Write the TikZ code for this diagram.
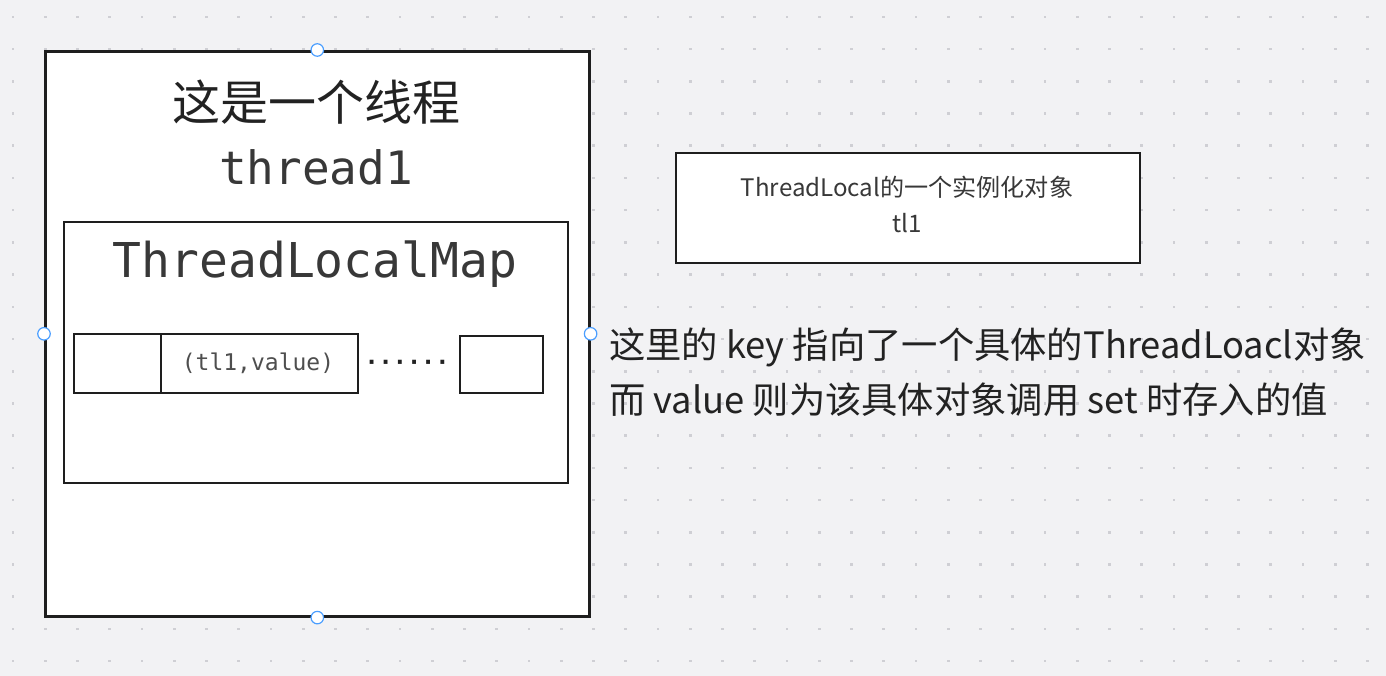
\documentclass[tikz,border=0pt]{standalone}
\usepackage{fontspec}
\setmainfont{Noto Sans CJK SC}
\newfontfamily\monof{DejaVu Sans Mono}
\definecolor{bg}{HTML}{F2F2F4}
\definecolor{dotc}{HTML}{CFCFD4}
\definecolor{ink}{HTML}{1E1E1E}
\definecolor{txt}{HTML}{222222}
\definecolor{handle}{HTML}{4A9EFF}
\tikzset{
  boxline/.style={draw=ink, line width=2.6pt, fill=white},
  thinbox/.style={draw=ink, line width=2.2pt, fill=white},
  hnd/.style={circle, draw=handle, fill=white, line width=1.2pt, minimum size=12.5pt, inner sep=0pt},
  lbl/.style={inner sep=0pt, text=txt, anchor=base},
}
\begin{document}
\begin{tikzpicture}[x=1pt,y=-1pt]
\fill[bg] (0,0) rectangle (1386,676);
\useasboundingbox (0,0) rectangle (1386,676);
% dot grid
\foreach \i in {0,...,42}{
  \foreach \j in {0,...,20}{
    \fill[dotc] ({13+32.25*\i-1.3},{17+32.2*\j-1.3}) rectangle +(2.6,2.6);
  }
}
% outer thread box
\node[boxline, minimum width=544pt, minimum height=565pt, anchor=north west, inner sep=0pt] (thread) at (44,50) {};
\node[lbl, font=\fontsize{48}{56}\selectfont] (t1) at (316,121) {这是一个线程};
\node[lbl, font=\monof\fontsize{46}{54}\selectfont, text=txt!90] (t2) at (316,185) {thread1};
% inner map box
\node[thinbox, minimum width=504pt, minimum height=261pt, anchor=north west, inner sep=0pt] (map) at (63,221) {};
\node[lbl, font=\monof\fontsize{48}{54}\selectfont, text=txt!90] (mapt) at (315,277) {ThreadLocalMap};
% entries
\node[thinbox, minimum width=87pt, minimum height=59pt, anchor=north west, inner sep=0pt] (e1) at (73,333) {};
\node[thinbox, minimum width=197pt, minimum height=59pt, anchor=north west, inner sep=0pt] (e2) at (160,333) {};
\node[lbl, font=\monof\fontsize{23}{28}\selectfont, text=txt!80] (e2t) at (258,370) {(tl1,value)};
\node[lbl, font=\monof\bfseries\fontsize{23.5}{28}\selectfont] (dots) at (407,370) {······};
\node[thinbox, minimum width=83pt, minimum height=57pt, anchor=north west, inner sep=0pt] (e3) at (459,335) {};
% handles
\node[hnd] (h1) at (thread.north) {};
\node[hnd] (h2) at (thread.south) {};
\node[hnd] (h3) at (thread.west) {};
\node[hnd] (h4) at (thread.east) {};
% tl1 box
\node[thinbox, minimum width=464pt, minimum height=110pt, anchor=north west, inner sep=0pt] (tl) at (675,152) {};
\node[lbl, font=\fontsize{24.1}{30}\selectfont, text=black!78] (tlt1) at (907,197) {ThreadLocal的一个实例化对象};
\node[lbl, font=\fontsize{24.1}{30}\selectfont, text=black!78] (tlt2) at (907,233) {tl1};
% annotation
\node[inner sep=0pt, text=txt, anchor=base west, font=\fontsize{36.3}{42}\selectfont] (a1) at (609,358) {这里的 key 指向了一个具体的ThreadLoacl对象};
\node[inner sep=0pt, text=txt, anchor=base west, font=\fontsize{36.3}{42}\selectfont] (a2) at (609,413) {而 value 则为该具体对象调用 set 时存入的值};
\end{tikzpicture}
\end{document}
